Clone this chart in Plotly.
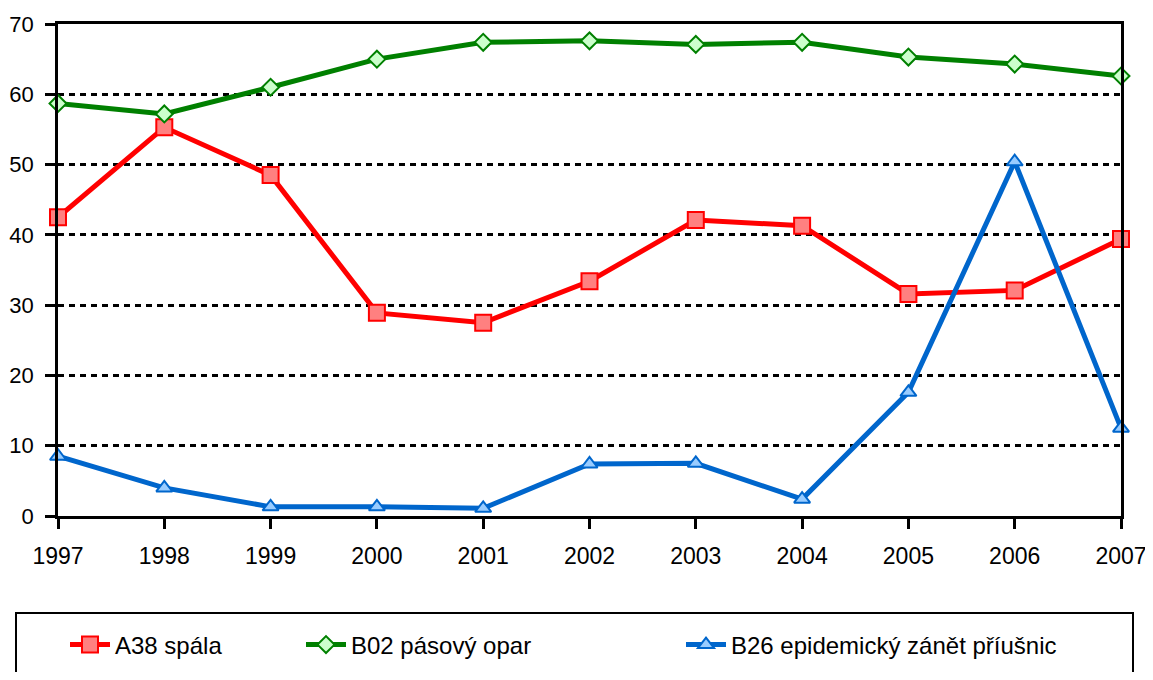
import plotly.graph_objects as go

years = [1997, 1998, 1999, 2000, 2001, 2002, 2003, 2004, 2005, 2006, 2007]
a38_spala = [42.5, 55.3, 48.5, 28.9, 27.5, 33.4, 42.1, 41.3, 31.6, 32.1, 39.4]
b02_pasovy_opar = [58.7, 57.2, 61.0, 65.0, 67.4, 67.6, 67.1, 67.4, 65.3, 64.3, 62.6]
b26_priusnice = [8.5, 4.0, 1.3, 1.3, 1.1, 7.4, 7.5, 2.4, 17.6, 50.4, 12.5]
names = ["A38 spála", "B02 pásový opar", "B26 epidemický zánět příušnic"]
y_ticks = [0, 10, 20, 30, 40, 50, 60, 70]

FONT = "Liberation Sans, Arial, sans-serif"
# page body has an 8px default margin: figure coordinates = screen - 8
OFF = 8
W, H = 1153 - OFF, 680 - 2 * OFF
L, R, T, B = 58 - OFF, 1121 - OFF, 24 - OFF, 516 - OFF

def px_x(p):
    return (p - OFF - L) / (R - L)

def px_y(p):
    return (B - (p - OFF)) / (B - T)

fig = go.Figure()
fig.add_trace(go.Scatter(
    x=years, y=a38_spala, name=names[0], mode="lines+markers",
    line=dict(color="#FF0000", width=5),
    marker=dict(symbol="square", size=16, color="#FF8080", line=dict(color="#FF0000", width=2)),
    cliponaxis=False, legend="legend"))
fig.add_trace(go.Scatter(
    x=years, y=b02_pasovy_opar, name=names[1], mode="lines+markers",
    line=dict(color="#008000", width=5),
    marker=dict(symbol="diamond", size=13, color="#CCFFCC", line=dict(color="#008000", width=2)),
    cliponaxis=False, legend="legend2"))
fig.add_trace(go.Scatter(
    x=years, y=b26_priusnice, name=names[2], mode="lines+markers",
    line=dict(color="#0066CC", width=5),
    marker=dict(symbol="triangle-up", size=14, color="#99CCFF", line=dict(color="#0066CC", width=2)),
    cliponaxis=False, legend="legend3"))

leg_common = dict(orientation="h", yanchor="middle", xanchor="left",
                  font=dict(family=FONT, size=24, color="black"),
                  bgcolor="rgba(0,0,0,0)", borderwidth=0, tracegroupgap=0,
                  itemwidth=40)

fig.update_layout(
    width=W, height=H,
    margin=dict(l=L, r=W - R, t=T, b=H - B, autoexpand=False),
    paper_bgcolor="white", plot_bgcolor="white",
    font=dict(family=FONT, size=24, color="black"),
    showlegend=True,
    legend=dict(x=px_x(65), y=px_y(645), **leg_common),
    legend2=dict(x=px_x(301), y=px_y(645), **leg_common),
    legend3=dict(x=px_x(681), y=px_y(645), **leg_common),
    xaxis=dict(range=[1997, 2007], tickmode="array", tickvals=years,
               ticktext=[str(y) for y in years],
               showline=True, linecolor="black", linewidth=2.5, mirror=True,
               ticks="outside", ticklen=10, tickwidth=2.5, tickcolor="black",
               ticklabelstandoff=8,
               showgrid=False, zeroline=False,
               tickfont=dict(family=FONT, size=23, color="black")),
    yaxis=dict(range=[0, 70], tickmode="array", tickvals=y_ticks,
               showline=True, linecolor="black", linewidth=2.5, mirror=True,
               ticks="outside", ticklen=10, tickwidth=2.5, tickcolor="black",
               ticklabelstandoff=7,
               showgrid=True, gridcolor="black", gridwidth=2.5, griddash="6px,5px",
               zeroline=False,
               tickfont=dict(family=FONT, size=22, color="black")),
)

fig.add_shape(type="rect", xref="paper", yref="paper",
              x0=px_x(16), x1=px_x(1133), y0=px_y(700), y1=px_y(613),
              line=dict(color="black", width=2), fillcolor="rgba(0,0,0,0)")

fig.write_html("out.html")
